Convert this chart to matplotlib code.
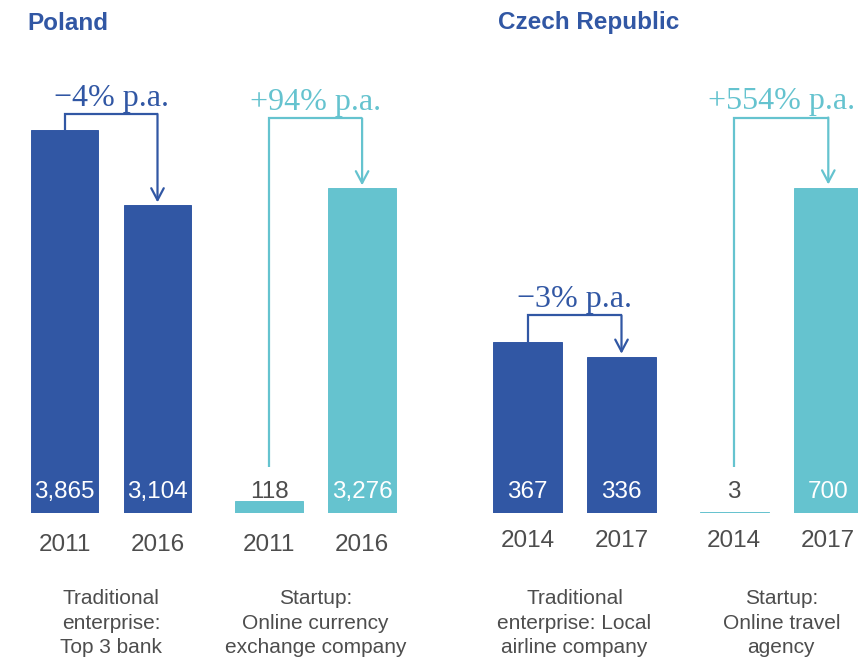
import matplotlib
matplotlib.use("Agg")
import matplotlib.pyplot as plt

# ---- data ----
panel_titles = ["Poland", "Czech Republic"]
years = [["2011", "2016", "2011", "2016"], ["2014", "2017", "2014", "2017"]]
values = [[3865, 3104, 118, 3276], [367, 336, 3, 700]]
value_labels = [["3,865", "3,104", "118", "3,276"], ["367", "336", "3", "700"]]
growth_labels = [["\u22124% p.a.", "+94% p.a."], ["\u22123% p.a.", "+554% p.a."]]
group_labels = [
    ["Traditional\nenterprise:\nTop 3 bank", "Startup:\nOnline currency\nexchange company"],
    ["Traditional\nenterprise: Local\nairline company", "Startup:\nOnline travel\nagency"],
]

# ---- style ----
BLUE = "#3157A4"
CYAN = "#65C3CF"
GREY = "#4d4d4d"
W, H = 858, 660
fig = plt.figure(figsize=(W / 100, H / 100), dpi=100)

SANS = ["Liberation Sans", "DejaVu Sans"]
SERIF = ["Liberation Serif", "DejaVu Serif"]

positions = [0, 1, 2.2, 3.2]
bar_colors = [BLUE, BLUE, CYAN, CYAN]
baseline_px = 513          # from top of figure
axes_top_px = 40
axes_h_px = baseline_px - axes_top_px

# per panel layout: first-bar centre (px), px per x unit, px per value unit,
# right x-limit, bracket heights above the taller bar (px), year label offset
layout = [
    dict(x0=64.5, unit=93, ppu=383 / 3865, xr=3.7, bracket=[16, 70], year_off=32),
    dict(x0=527.5, unit=94, ppu=0.465, xr=(858 - 527.5) / 94, bracket=[27, 70], year_off=28),
]
XL = -0.55


def pt(px):
    return px * 0.72


for p in range(2):
    L = layout[p]
    left_px = L["x0"] + XL * L["unit"]
    width_px = (L["xr"] - XL) * L["unit"]
    ax = fig.add_axes([left_px / W, (H - baseline_px) / H, width_px / W, axes_h_px / H])
    ax.set_xlim(XL, L["xr"])
    ax.set_ylim(0, axes_h_px / L["ppu"])
    ax.axis("off")

    vals = values[p]
    ax.bar(positions, vals, width=0.73, color=bar_colors, edgecolor=bar_colors,
           linewidth=0.7)

    # value labels, white inside tall bars, grey above short ones
    for x, v, lab in zip(positions, vals, value_labels[p]):
        inside = v * L["ppu"] > 40
        ax.annotate(lab, xy=(x, 0), xytext=(0, pt(21)), textcoords="offset points",
                    ha="center", va="center", fontsize=17.5, family=SANS,
                    color="white" if inside else GREY)

    # year labels below the baseline
    for x, yr in zip(positions, years[p]):
        ax.annotate(yr, xy=(x, 0), xytext=(0, -pt(L["year_off"])), textcoords="offset points",
                    ha="center", va="center", fontsize=17.5, family=SANS,
                    color=GREY, annotation_clip=False)

    # growth brackets with arrows
    for g in range(2):
        i1, i2 = 2 * g, 2 * g + 1
        x1, x2 = positions[i1], positions[i2]
        v1, v2 = vals[i1], vals[i2]
        col = bar_colors[i1]
        ppu = L["ppu"]
        level = max(v1, v2) + L["bracket"][g] / ppu
        start = max(v1, 46 / ppu)
        ax.plot([x1, x1, x2], [start, level, level], color=col, lw=1.6,
                solid_joinstyle="miter", solid_capstyle="butt", clip_on=False)
        ax.annotate("", xy=(x2, v2 + 3 / ppu), xytext=(x2, level),
                    arrowprops=dict(arrowstyle="->,head_length=0.85,head_width=0.45",
                                    color=col, lw=1.6, shrinkA=0, shrinkB=0),
                    annotation_clip=False)
        ax.annotate(growth_labels[p][g], xy=((x1 + x2) / 2, level), xytext=(0, pt(8)),
                    textcoords="offset points", ha="center", va="baseline",
                    fontsize=23, family=SERIF, color=col, annotation_clip=False)

        # group description below the years
        ax.annotate(group_labels[p][g], xy=((x1 + x2) / 2, 0), xytext=(0, -pt(76)),
                    textcoords="offset points", ha="center", va="top",
                    fontsize=15, family=SANS, color=GREY,
                    linespacing=1.38, annotation_clip=False)

# panel titles
fig.text(27 / W, 1 - 23 / H, panel_titles[0], ha="left", va="center", fontsize=17.5,
         fontweight="bold", family=SANS, color=BLUE)
fig.text(498 / W, 1 - 23 / H, panel_titles[1], ha="left", va="center", fontsize=17.5,
         fontweight="bold", family=SANS, color=BLUE)

fig.savefig("out.png", dpi=100, facecolor="white")
